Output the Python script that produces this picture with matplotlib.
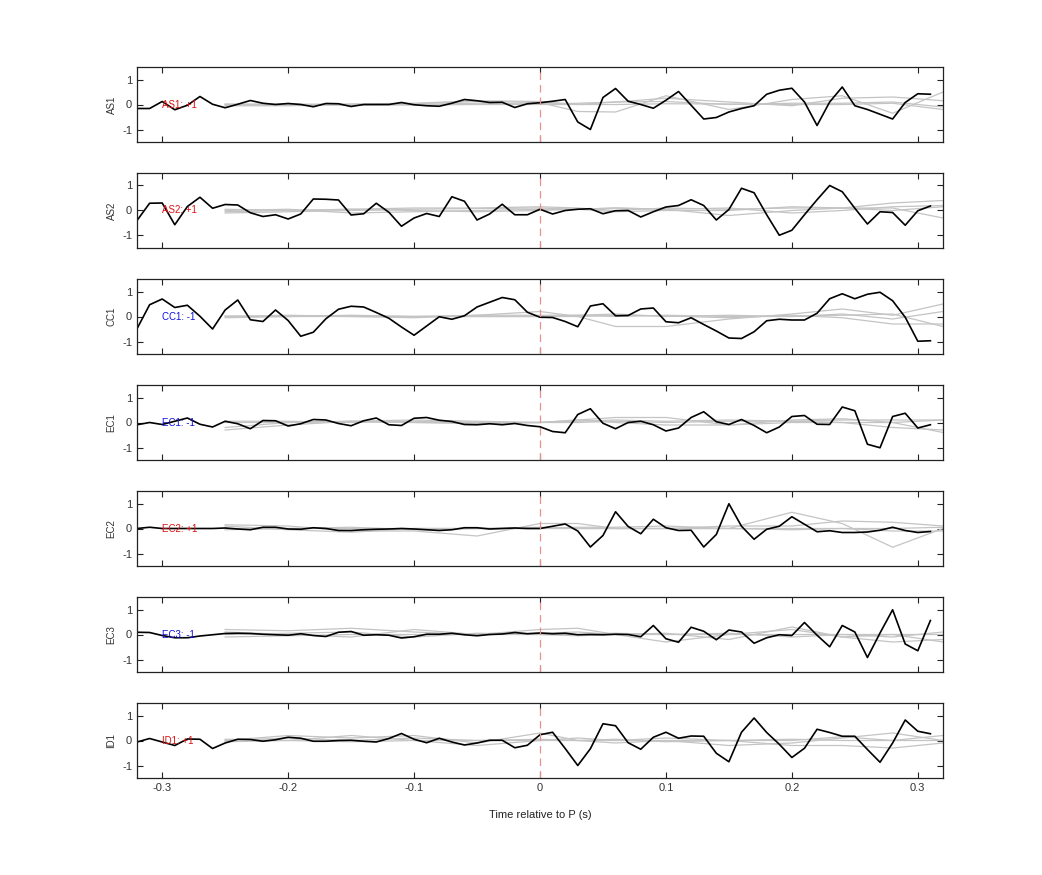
import numpy as np
import matplotlib
matplotlib.use("Agg")
import matplotlib.pyplot as plt

plt.rcParams['font.family'] = ['Liberation Sans', 'DejaVu Sans']
plt.rcParams['axes.unicode_minus'] = False

t = np.round(np.arange(-0.32, 0.315, 0.01), 2)  # sample times
channels = ["AS1", "AS2", "CC1", "EC1", "EC2", "EC3", "ID1"]
polarity = ["+1", "+1", "-1", "-1", "+1", "-1", "+1"]

AS1 = [-0.16,-0.16,0.12,-0.21,-0.03,0.32,0.01,-0.13,0.01,0.16,0.05,0.0,0.04,0.0,-0.09,0.04,
       0.03,-0.08,0.0,0.0,0.0,0.08,-0.01,-0.05,-0.07,0.05,0.2,0.15,0.08,0.09,-0.12,0.03,
       0.07,0.13,0.2,-0.7,-1.0,0.28,0.64,0.13,0.0,-0.15,0.17,0.52,-0.03,-0.58,-0.52,-0.3,
       -0.16,-0.05,0.41,0.57,0.65,0.1,-0.84,0.1,0.7,-0.05,-0.2,-0.39,-0.58,0.08,0.43,0.41]
AS2 = [-0.4,0.29,0.3,-0.57,0.16,0.53,0.09,0.24,0.22,-0.09,-0.24,-0.17,-0.34,-0.14,0.46,0.45,
       0.42,-0.18,-0.13,0.29,-0.07,-0.63,-0.3,-0.12,-0.24,0.55,0.37,-0.38,-0.14,0.25,-0.17,-0.17,
       0.05,-0.14,0.0,0.05,0.07,-0.13,-0.01,0.0,-0.26,-0.05,0.14,0.2,0.43,0.2,-0.38,0.04,
       0.89,0.71,-0.17,-0.99,-0.79,-0.17,0.43,1.0,0.75,0.09,-0.54,-0.05,-0.08,-0.59,-0.01,0.18]
CC1 = [-0.49,0.47,0.7,0.36,0.45,0.01,-0.5,0.26,0.66,-0.13,-0.2,0.26,-0.16,-0.79,-0.63,-0.09,
       0.29,0.41,0.38,0.16,-0.07,-0.42,-0.75,-0.38,-0.01,-0.11,0.03,0.38,0.57,0.76,0.67,0.17,
       -0.03,-0.04,-0.2,-0.41,0.42,0.51,0.03,0.04,0.3,0.34,-0.21,-0.25,-0.05,-0.32,-0.58,-0.86,
       -0.88,-0.61,-0.17,-0.11,-0.14,-0.14,0.13,0.71,0.91,0.71,0.89,0.97,0.63,-0.03,-0.99,-0.97]
EC1 = [-0.09,0.0,-0.08,0.05,0.18,-0.07,-0.18,0.05,-0.05,-0.25,0.08,0.07,-0.14,-0.05,0.12,0.1,
       -0.04,-0.13,0.07,0.18,-0.09,-0.12,0.17,0.2,0.09,0.04,-0.08,-0.09,-0.05,-0.09,-0.04,-0.12,
       -0.17,-0.36,-0.41,0.32,0.55,-0.03,-0.25,0.0,0.05,-0.09,-0.34,-0.22,0.2,0.43,0.03,-0.08,
       0.12,-0.12,-0.41,-0.18,0.24,0.28,-0.07,-0.08,0.62,0.47,-0.87,-1.01,0.24,0.37,-0.22,-0.09]
EC2 = [0.0,0.05,0.0,0.0,0.0,0.0,0.0,0.02,-0.02,-0.05,0.05,0.05,-0.02,-0.03,0.03,0.0,
       -0.08,-0.08,-0.05,-0.03,-0.02,0.0,-0.02,-0.05,-0.08,-0.05,0.03,0.03,-0.02,0.0,0.02,0.0,
       0.0,0.09,0.18,-0.1,-0.74,-0.28,0.67,0.08,-0.21,0.37,0.03,-0.08,-0.07,-0.74,-0.24,0.99,
       0.09,-0.43,-0.03,0.09,0.47,0.17,-0.13,-0.09,-0.16,-0.16,-0.14,-0.07,0.05,-0.08,-0.16,-0.12]
EC3 = [0.09,0.08,-0.04,-0.13,-0.13,-0.06,-0.01,0.04,0.05,0.04,0.01,-0.01,-0.03,0.03,-0.04,-0.08,
       0.09,0.12,-0.03,-0.01,-0.03,-0.14,-0.09,0.01,0.01,0.05,-0.01,-0.05,0.0,0.02,0.08,0.03,
       0.06,0.03,0.05,-0.01,0.0,-0.01,0.01,0.0,-0.09,0.36,-0.17,-0.31,0.29,0.13,-0.21,0.18,
       0.1,-0.35,-0.13,-0.01,-0.04,0.48,-0.03,-0.49,0.36,0.1,-0.92,0.06,0.99,-0.38,-0.65,0.56]
ID1 = [-0.06,0.08,-0.06,-0.2,0.06,0.05,-0.32,-0.1,0.05,0.04,-0.03,0.03,0.13,0.09,-0.03,-0.03,
       0.0,0.01,-0.03,-0.06,0.08,0.28,0.05,-0.09,0.09,-0.06,-0.18,-0.1,0.01,0.01,-0.29,-0.19,
       0.23,0.33,-0.32,-1.0,-0.33,0.67,0.59,-0.09,-0.35,0.13,0.33,0.09,0.18,0.17,-0.51,-0.85,
       0.33,0.9,0.32,-0.15,-0.68,-0.31,0.45,0.32,0.17,0.17,-0.36,-0.87,-0.1,0.82,0.37,0.27]
black = [AS1, AS2, CC1, EC1, EC2, EC3, ID1]

# gray reference traces, sampled at knots
tg = [-0.25,-0.20,-0.15,-0.10,-0.05,0.0,0.03,0.06,0.10,0.15,0.20,0.24,0.28,0.32]
gray = [
 [[0,0.02,0.0,0.03,0.12,0.08,-0.28,-0.3,0.35,-0.2,0.2,0.35,-0.35,0.5],
  [0,-0.02,0.02,0.05,0.15,0.12,0.0,0.1,0.25,0.1,-0.05,0.25,0.3,0.15],
  [0.02,0.0,-0.03,0.0,0.05,0.02,0.05,0.1,0.12,0.0,0.05,0.05,0.1,-0.1],
  [-0.05,-0.05,0.0,-0.02,0.0,0.0,0.0,0.0,0.03,0.02,0.0,0.0,0.05,-0.2]],
 [[-0.05,0.0,0.05,0.1,0.1,0.15,0.1,0.0,0.1,0.05,0.1,0.1,0.3,0.4],
  [0.0,0.05,-0.1,-0.05,0.0,0.05,0.05,0.1,0.05,-0.2,0.0,0.1,0.0,0.15],
  [-0.1,-0.05,0.0,0.05,0.08,0.1,0.05,-0.05,0.0,0.0,0.15,0.1,0.1,-0.3],
  [0.05,0.0,0.05,0.0,-0.05,0.0,0.05,0.1,0.05,0.1,-0.1,0.0,0.15,0.2]],
 [[0,0.0,0.02,0.0,0.05,0.2,0.0,-0.4,-0.4,-0.1,0.1,0.3,0.05,0.5],
  [0,0.05,0.0,-0.05,0.05,0.05,0.05,0.0,0.05,0.0,0.0,0.1,-0.1,0.2],
  [0.02,0.0,0.05,0.0,0.0,0.0,0.05,0.1,0.0,0.05,0.0,0.05,0.1,-0.4],
  [-0.05,0.0,0.0,0.0,0.0,0.0,0.0,0.05,0.02,-0.05,0.05,-0.05,-0.3,-0.3]],
 [[-0.3,-0.1,0.05,0.1,0.05,0.0,0.1,0.2,0.2,-0.1,0.1,0.15,0.0,-0.4],
  [-0.2,0.0,0.05,0.0,0.0,0.0,0.05,0.1,0.05,0.1,0.05,0.1,0.1,0.1],
  [0.0,0.0,0.05,0.0,-0.05,0.0,0.1,0.0,-0.1,-0.1,0.0,0.0,-0.2,-0.3],
  [0.05,0.05,0.0,0.05,0.0,0.0,0.0,0.05,0.0,0.05,0.05,0.0,0.0,0.1]],
 [[0.15,0.1,-0.1,-0.1,-0.3,0.2,0.2,0.0,0.0,0.0,0.65,0.2,-0.75,0.0],
  [0.1,-0.05,-0.15,0.0,0.0,0.0,0.0,0.0,0.0,0.1,0.1,0.3,0.25,0.1],
  [0.0,0.0,0.05,-0.05,0.0,0.05,0.0,0.0,0.0,0.0,-0.05,0.0,-0.1,-0.1],
  [-0.05,0.0,0.0,0.0,0.0,0.0,0.05,0.05,0.1,0.0,0.0,0.0,0.0,0.05]],
 [[0.2,0.15,0.25,0.1,0.0,0.2,0.25,0.0,-0.3,0.0,0.2,-0.1,0.0,-0.3],
  [0.1,0.0,-0.1,0.2,0.0,0.05,0.1,0.0,0.05,-0.2,0.3,-0.1,-0.3,-0.2],
  [0.0,0.05,0.1,-0.1,0.05,0.0,0.0,0.05,0.0,0.05,-0.1,0.0,0.0,0.0],
  [-0.1,-0.05,0.0,0.0,0.0,0.0,-0.05,0.0,0.0,0.0,0.0,0.0,-0.1,0.1]],
 [[0.0,0.2,0.1,0.2,-0.1,0.3,0.0,-0.1,0.0,-0.2,-0.1,0.1,0.3,0.0],
  [0.05,0.0,0.2,0.0,-0.2,0.0,0.1,0.0,0.0,0.0,0.0,0.15,0.0,0.0],
  [0.0,0.1,0.0,0.1,0.0,0.05,0.0,0.0,0.1,0.0,-0.2,-0.2,-0.3,-0.1],
  [-0.05,0.0,-0.05,0.0,0.0,0.0,0.0,0.05,-0.05,0.0,0.05,0.0,0.0,0.2]],
]

fig = plt.figure(figsize=(10.42, 8.75), dpi=100)
W, H = 1042, 875
left, right = 137, 943
for k, ch in enumerate(channels):
    top = 67 + 106 * k
    ax = fig.add_axes([left / W, 1 - (top + 75) / H, (right - left) / W, 75 / H])
    for g in gray[k]:
        ax.plot(tg, g, color='#c4c4c4', lw=0.9)
    ax.plot(t, black[k], color='black', lw=1.2)
    ax.axvline(0, color='#e89090', lw=0.9, ls=(0, (6, 4)))
    col = '#dd1111' if polarity[k] == "+1" else '#1111dd'
    ax.text(-0.30, 0, f"{ch}: {polarity[k]}", color=col, fontsize=7, va='center', ha='left')
    ax.set_xlim(-0.32, 0.32)
    ax.set_ylim(-1.5, 1.5)
    ax.set_yticks([-1, 0, 1])
    ax.set_xticks([-0.3, -0.2, -0.1, 0, 0.1, 0.2, 0.3])
    ax.tick_params(direction='in', top=True, right=True, labelsize=8, length=4,
                   color='#222222', labelcolor='#333333')
    ax.set_ylabel(ch, fontsize=7, color='#333333')
    for s in ax.spines.values():
        s.set_linewidth(0.9)
        s.set_color('#222222')
    if k < len(channels) - 1:
        ax.set_xticklabels([])
    else:
        ax.set_xticklabels(['-0.3', '-0.2', '-0.1', '0', '0.1', '0.2', '0.3'])
        ax.set_xlabel("Time relative to P (s)", fontsize=8, labelpad=12, color='#222222')

fig.savefig("out.png", dpi=100)
